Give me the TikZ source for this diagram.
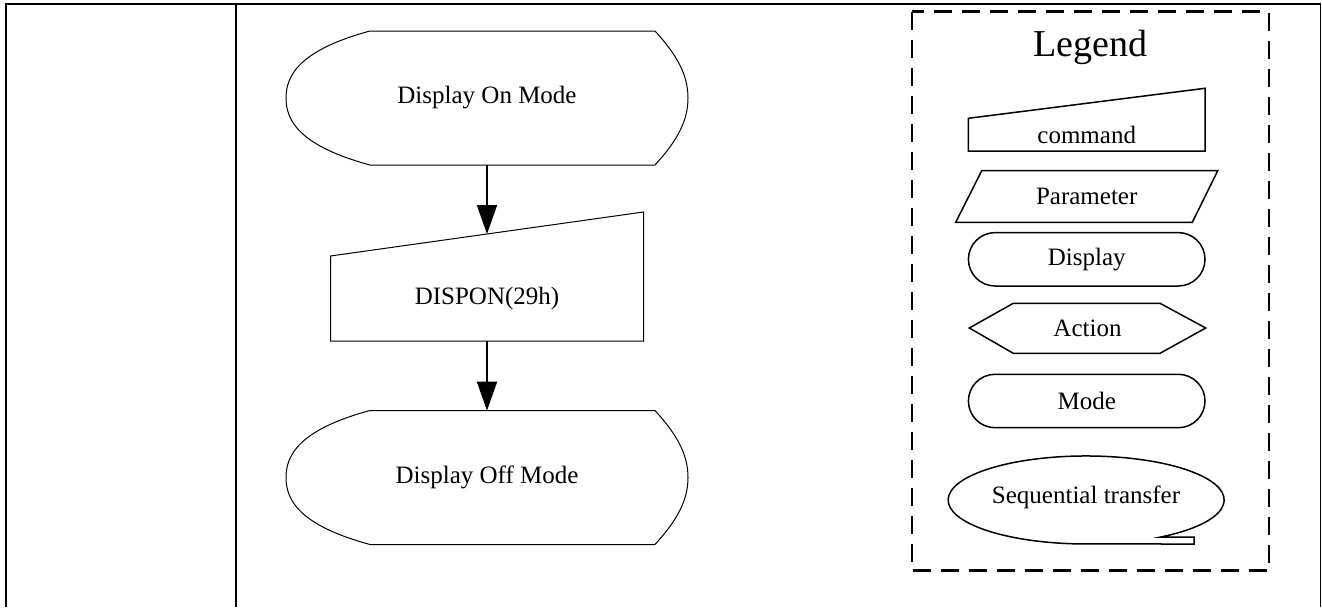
\documentclass[tikz,border=0pt]{standalone}
\usepackage{fontspec}
\setmainfont{Liberation Serif}
\usepackage{tikz}
\usetikzlibrary{arrows.meta,positioning,shapes.misc}

\begin{document}
\begin{tikzpicture}[
    x=0.5pt, y=0.5pt,
    frame/.style={line width=0.9pt},
    flowtext/.style={inner sep=0pt, align=center, font=\fontsize{12.5}{15}\selectfont},
    outline/.style={draw, line width=0.5pt},
    legshape/.style={draw, line width=0.75pt},
    legtext/.style={inner sep=0pt, font=\fontsize{12.5}{15}\selectfont},
    pill/.style={legshape, legtext, rounded rectangle, minimum width=118.3pt, minimum height=26.7pt},
    arrow/.style={-{Triangle[length=14.5pt, width=10pt]}, line width=1pt}
]
\useasboundingbox (0,0) rectangle (1322,607);

% table cell
\draw[frame] (6,0) -- (6,603) -- (1320.5,603) -- (1320.5,0);
\draw[frame] (236,0) -- (236,603);

% flow
\node[flowtext, minimum width=201pt, minimum height=67pt] (onmode) at (487,509) {Display On Mode};
\node[flowtext, minimum width=156.5pt, minimum height=42.5pt] (dispon) at (487,308.5) {DISPON(29h)};
\node[flowtext, minimum width=201pt, minimum height=66.5pt] (offmode) at (487,129.5) {Display Off Mode};

\foreach \n in {onmode, offmode}
  \draw[outline, shift={(\n.center)}] (-117,67) -- (168,67)
    .. controls (190,43) and (201,23) .. (201,0)
    .. controls (201,-23) and (190,-43) .. (168,-67) -- (-117,-67)
    .. controls (-187,-48) and (-201,-23) .. (-201,0)
    .. controls (-201,23) and (-187,48) .. (-117,67) -- cycle;
\draw[outline, shift={(dispon.center)}] (-156.5,-42.5) -- (-156.5,42.5) -- (156.5,86.5) -- (156.5,-42.5) -- cycle;
\coordinate[above=32.25pt of dispon.center] (disponin);

\draw[arrow] (onmode) -- (disponin);
\draw[arrow] (dispon) -- (offmode);

% legend
\draw[line width=1.3pt, dash pattern=on 9pt off 5pt] (912,595.3) rectangle (1269,36.3);
\node[anchor=base, inner sep=0pt, font=\fontsize{19}{23}\selectfont] (legtitle) at (1090,551) {Legend};

\node[legtext] (legcmd) at (1086.7,472) {command};
\draw[legshape] (968.3,456) -- (968.3,488.7) -- (1205,518.7) -- (1205,456) -- cycle;

\node[legtext] (legparam) at (1086.7,410.5) {Parameter};
\draw[legshape] (955.7,384.7) -- (981.7,436.3) -- (1217.7,436.3) -- (1192.3,384.7) -- cycle;

\node[pill] (legdisp) at (1086.7,347.7) {Display};

\node[legtext] (legact) at (1087.5,279) {Action};
\draw[legshape] (969.3,279) -- (1013.3,303.7) -- (1160,303.7) -- (1205.7,279) -- (1160,253.7) -- (1013.3,253.7) -- cycle;

\node[pill] (legmode) at (1086.7,206) {Mode};

\node[legtext] (legseq) at (1086,110) {Sequential transfer};
\draw[legshape] (1194,63) -- (1194,70) -- (1160.7,70)
  arc[start angle=-57.3, end angle=270, x radius=69pt, y radius=22pt] -- cycle;

\end{tikzpicture}
\end{document}
